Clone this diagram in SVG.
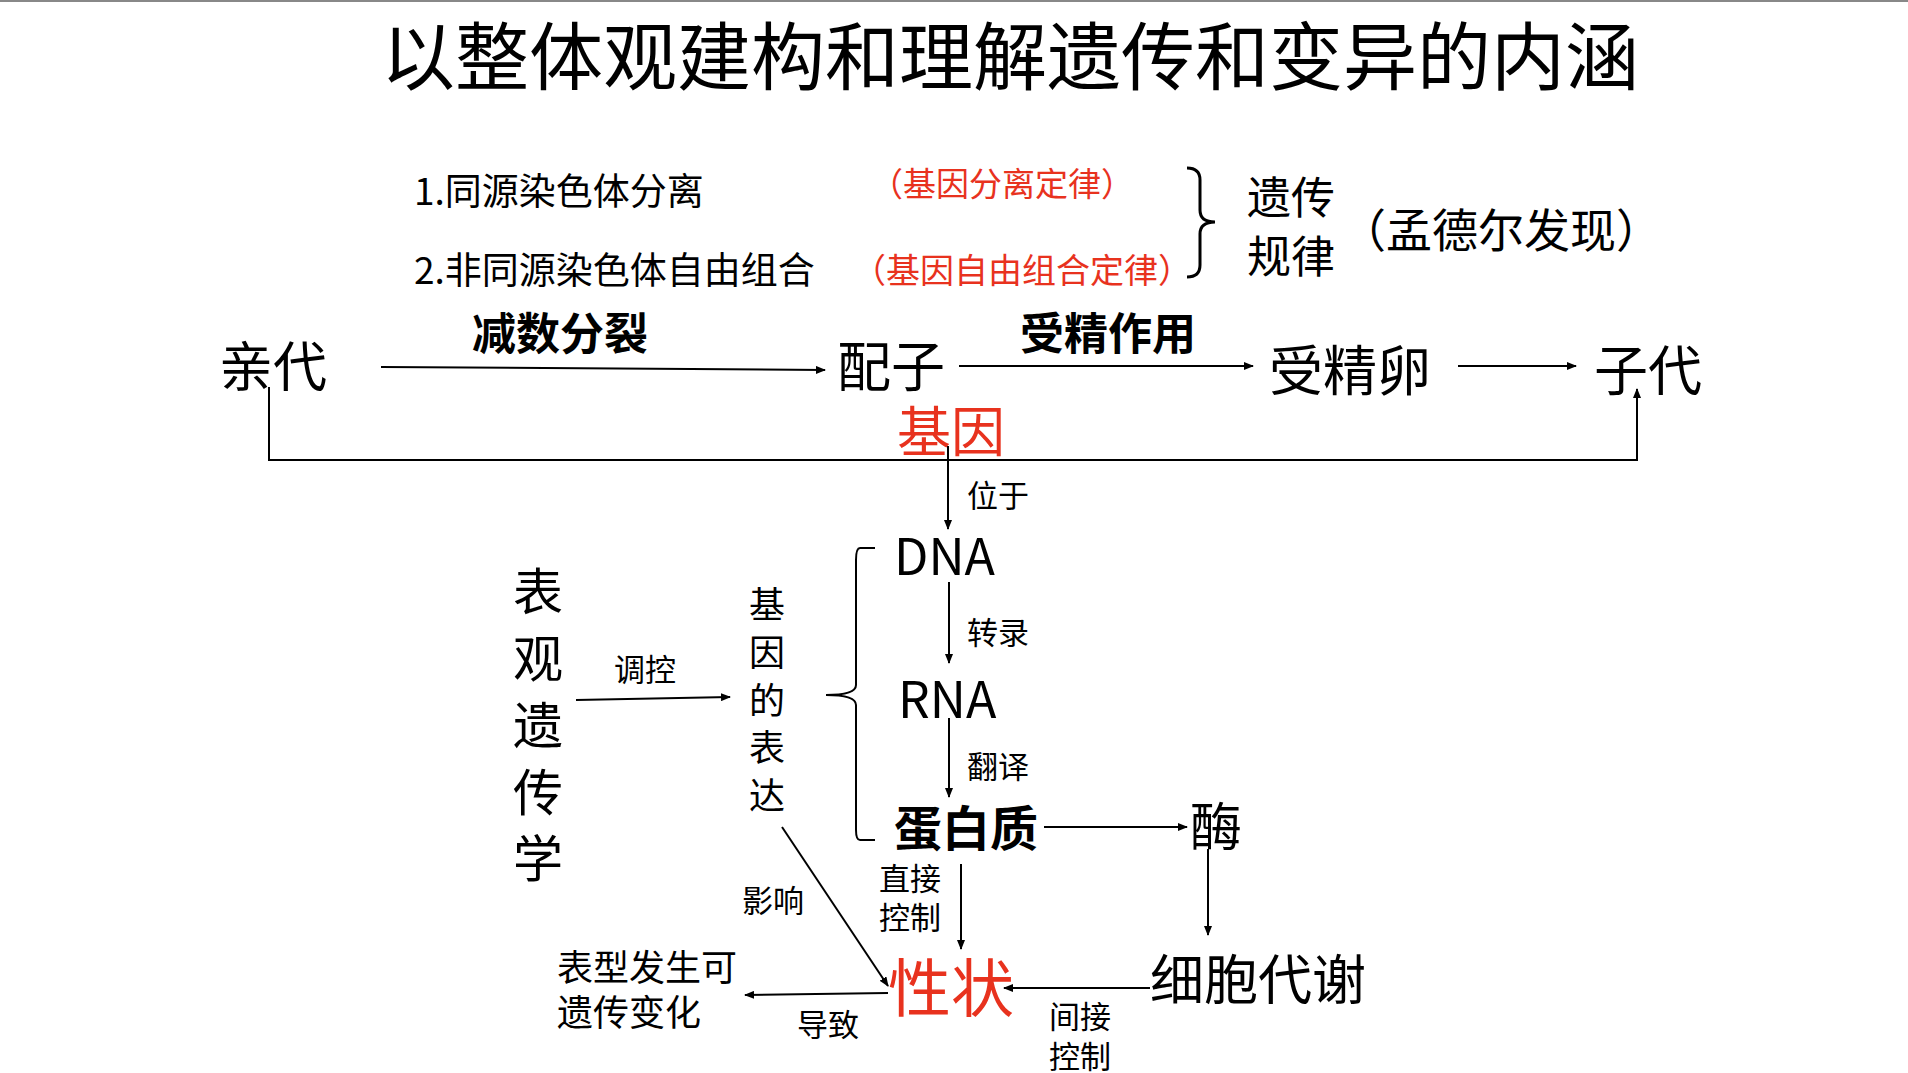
<svg xmlns="http://www.w3.org/2000/svg" width="1908" height="1073" viewBox="0 0 1908 1073">
<defs>
<marker id="ah" markerWidth="10" markerHeight="8" refX="9" refY="4" orient="auto" markerUnits="userSpaceOnUse"><path d="M0,0 L10,4 L0,8 Z" fill="#000"/></marker>
</defs>
<style>
text{font-family:"Noto Sans CJK SC","Liberation Sans",sans-serif;dominant-baseline:central;fill:#000}
.red{fill:#e8321e}
.b{font-weight:bold}
.c line,.c path{stroke:#000;stroke-width:2;fill:none}
.a{marker-end:url(#ah)}
</style>
<rect width="1908" height="1073" fill="#fff"/>
<line x1="0" y1="1" x2="1908" y2="1" stroke="#888" stroke-width="2"/>
<text x="1010" y="51" font-size="74" text-anchor="middle">以整体观建构和理解遗传和变异的内涵</text>
<g id="laws">
<text x="414" y="189" font-size="37">1.同源染色体分离</text>
<text x="870" y="182" font-size="33" class="red">（基因分离定律）</text>
<text x="414" y="268" font-size="37">2.非同源染色体自由组合</text>
<text x="852" y="268" font-size="34" class="red">（基因自由组合定律）</text>
<path d="M1187,168 Q1200,168 1200,180 L1200,210 Q1200,222 1215,222 Q1200,222 1200,234 L1200,265 Q1200,277 1187,277" stroke="#000" stroke-width="3" fill="none"/>
<text x="1247" y="195" font-size="44">遗传</text>
<text x="1247" y="254" font-size="44">规律</text>
<text x="1340" y="227" font-size="46">（孟德尔发现）</text>
</g>
<g id="n_qindai"><text x="219" y="363" font-size="54">亲代</text></g>
<g id="n_peizi"><text x="837" y="363" font-size="54">配子</text></g>
<g id="n_shoujingluan"><text x="1269" y="367" font-size="54">受精卵</text></g>
<g id="n_zidai"><text x="1594" y="367" font-size="54">子代</text></g>
<g id="n_jiyin"><text x="897" y="428" font-size="54" class="red">基因</text></g>
<g id="n_dna"><text x="894" y="553" font-size="50">DNA</text></g>
<g id="n_rna"><text x="898" y="696" font-size="50">RNA</text></g>
<g id="n_protein"><text x="894" y="825" font-size="48" class="b">蛋白质</text></g>
<g id="n_mei"><text x="1190" y="823" font-size="52">酶</text></g>
<g id="n_xiebao"><text x="1150" y="976" font-size="54">细胞代谢</text></g>
<g id="n_xingzhuang"><text x="888" y="983" font-size="63" class="red">性状</text></g>
<g id="n_biaoxing"><text x="557" y="965" font-size="36">表型发生可</text><text x="557" y="1010" font-size="36">遗传变化</text></g>
<g id="n_expr">
<text x="767" y="602" text-anchor="middle" font-size="36">基</text>
<text x="767" y="650" text-anchor="middle" font-size="36">因</text>
<text x="767" y="698" text-anchor="middle" font-size="36">的</text>
<text x="767" y="745" text-anchor="middle" font-size="36">表</text>
<text x="767" y="793" text-anchor="middle" font-size="36">达</text>
</g>
<g id="n_epi">
<text x="538" y="588" text-anchor="middle" font-size="50">表</text>
<text x="538" y="655" text-anchor="middle" font-size="50">观</text>
<text x="538" y="722" text-anchor="middle" font-size="50">遗</text>
<text x="538" y="789" text-anchor="middle" font-size="50">传</text>
<text x="538" y="855" text-anchor="middle" font-size="50">学</text>
</g>
<g id="connectors" class="c">
<line class="a" x1="381" y1="367" x2="825" y2="370"/>
<line class="a" x1="959" y1="366" x2="1253" y2="366"/>
<line class="a" x1="1458" y1="366" x2="1576" y2="366"/>
<path class="a" d="M269,387 L269,460 L1637,460 L1637,389" stroke-width="3"/>
<line class="a" x1="948" y1="446" x2="948" y2="529"/>
<line class="a" x1="949" y1="582" x2="949" y2="663"/>
<line class="a" x1="949" y1="718" x2="949" y2="797"/>
<line class="a" x1="1044" y1="827" x2="1187" y2="827"/>
<line class="a" x1="1208" y1="849" x2="1208" y2="935"/>
<line class="a" x1="1150" y1="988" x2="1004" y2="988"/>
<line class="a" x1="961" y1="864" x2="961" y2="949"/>
<line class="a" x1="576" y1="700" x2="730" y2="697"/>
<line class="a" x1="782" y1="827" x2="888" y2="986"/>
<line class="a" x1="888" y1="993" x2="745" y2="995"/>
<path d="M875,548 L860,548 Q856,548 856,560 L856,685 Q856,695 826,695 Q856,695 856,705 L856,830 Q856,840 860,840 L875,840" stroke-width="1.5"/>
<text x="472" y="331" font-size="44" class="b">减数分裂</text>
<text x="1020" y="331" font-size="44" class="b">受精作用</text>
<text x="967" y="493" font-size="31">位于</text>
<text x="967" y="630" font-size="31">转录</text>
<text x="967" y="764" font-size="31">翻译</text>
<text x="879" y="876" font-size="31">直接</text>
<text x="879" y="915" font-size="31">控制</text>
<text x="1049" y="1014" font-size="31">间接</text>
<text x="1049" y="1054" font-size="31">控制</text>
<text x="614" y="667" font-size="31">调控</text>
<text x="742" y="898" font-size="31">影响</text>
<text x="797" y="1022" font-size="31">导致</text>
</g>
</svg>
